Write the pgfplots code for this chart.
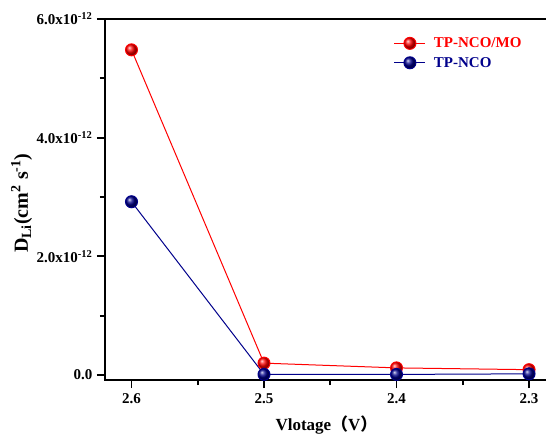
\documentclass[border=0pt]{standalone}
\usepackage{pgfplots}
\pgfplotsset{compat=1.18}
\usepackage{fontspec}
\setmainfont{Liberation Serif}
\newfontfamily\cjk{Noto Sans CJK SC}
\definecolor{rd}{RGB}{255,0,0}
\definecolor{nv}{RGB}{0,0,139}
\begin{document}
\begin{tikzpicture}[x=1pt,y=1pt]
\begin{axis}[
  name=ax, at={(0,0)}, anchor=south west, scale only axis,
  width=443pt, height=361pt,
  x dir=reverse, xmin=2.2857, xmax=2.62,
  ymin=-0.084, ymax=6.0,
  xtick={2.6,2.5,2.4,2.3}, xticklabels={2.6,2.5,2.4,2.3},
  minor xtick={2.55,2.45,2.35},
  ytick={0,2,4,6},
  yticklabels={0.0,2.0x10\textsuperscript{-12},4.0x10\textsuperscript{-12},6.0x10\textsuperscript{-12}},
  minor ytick={1,3,5},
  xtick pos=bottom, ytick pos=left, tick align=outside,
  major tick length=8pt, minor tick length=5pt,
  axis line style={line width=1.8pt},
  every tick/.append style={line width=1.8pt, draw=black},
  xtick style={line width=1.8pt, draw=black},
  ytick style={line width=1.8pt, draw=black},
  ticklabel style={font=\bfseries\fontsize{15}{18}\selectfont},
  xticklabel style={yshift=-2pt},
  yticklabel style={xshift=-1pt},
  xlabel={Vlotage{\cjk\bfseries （}V{\cjk\bfseries ）}},
  xlabel style={font=\bfseries\fontsize{17}{20}\selectfont, at={(axis description cs:0.5,0)}, anchor=base, yshift=-50pt},
  ylabel={D\textsubscript{Li}(cm\textsuperscript{2} s\textsuperscript{-1})},
  ylabel style={font=\bfseries\fontsize{20}{24}\selectfont, at={(axis description cs:-0.188,0.49)}, anchor=center},
  legend style={draw=none, fill=none, at={(axis description cs:0.645,0.96)}, anchor=north west,
    font=\bfseries\fontsize{15}{18}\selectfont, row sep=4pt},
  legend image code/.code={\draw[mark repeat=2,mark phase=2,#1] plot coordinates {(0pt,0pt)(15.5pt,0pt)(31pt,0pt)};},
  legend cell align=left,
]
\addplot[rd, line width=1pt, mark=ball, mark size=6pt, mark options={ball color=rd}]
  coordinates {(2.6,5.48) (2.5,0.20) (2.4,0.12) (2.3,0.09)};
\addlegendentry{\hspace{6pt}\textcolor{rd}{TP-NCO/MO}}
\addplot[nv, line width=1pt, mark=ball, mark size=6pt, mark options={ball color=nv}]
  coordinates {(2.6,2.92) (2.5,0.01) (2.4,0.01) (2.3,0.02)};
\addlegendentry{\hspace{6pt}\textcolor{nv}{TP-NCO}}
\end{axis}
\pgfresetboundingbox
\useasboundingbox (-105,-56) rectangle (441,380);
\end{tikzpicture}
\end{document}
